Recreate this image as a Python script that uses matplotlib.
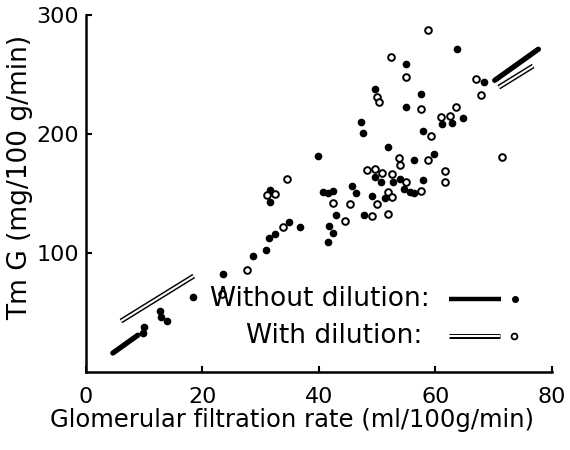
import matplotlib
matplotlib.use("Agg")
import matplotlib.pyplot as plt
import numpy as np

# Tm G vs GFR
# without dilution (filled dots)
gfr_without = [63.8, 54.9, 68.3, 49.6, 57.6, 54.9, 64.8, 61.2, 62.9, 57.8,
               51.8, 59.7, 56.4, 49.6, 50.6, 52.8, 53.9, 57.8, 54.7, 55.6,
               56.4, 49.2, 51.3, 47.3, 47.5, 39.8, 45.6, 46.3, 40.7, 41.5,
               42.4, 31.6, 31.6, 42.9, 47.7, 41.7, 42.4, 36.7, 41.5, 34.8,
               32.4, 31.4, 30.9, 28.6, 23.5, 18.4, 9.8, 9.9, 12.7, 12.9, 13.9]
tmg_without = [271.4, 258.8, 243.7, 237.8, 233.6, 222.7, 213.4, 208.4, 209.2, 202.5,
               189.1, 183.2, 178.2, 163.9, 159.7, 159.7, 162.2, 161.3, 153.8, 151.3,
               150.4, 147.9, 146.2, 210.1, 200.8, 181.5, 156.3, 150.4, 151.3, 150.4,
               152.1, 152.9, 142.9, 131.9, 131.9, 122.7, 116.8, 121.8, 109.2, 126.1,
               116.0, 112.6, 102.5, 97.5, 82.4, 63.0, 32.8, 37.8, 51.3, 46.2, 42.9]

# with dilution (open dots)
gfr_with = [58.8, 52.3, 54.9, 66.9, 67.8, 49.9, 50.4, 57.6, 63.6, 60.9,
            62.6, 59.2, 71.5, 53.7, 58.7, 53.9, 49.6, 50.8, 52.5, 54.9,
            61.7, 61.7, 57.6, 51.8, 52.5, 48.2, 34.6, 31.0, 32.4, 49.9,
            49.2, 51.8, 42.5, 45.3, 44.4, 33.8, 27.6, 23.3]
tmg_with = [287.4, 264.7, 247.9, 246.2, 232.8, 231.1, 226.9, 221.0, 222.7, 214.3,
            215.1, 198.3, 180.7, 179.8, 178.2, 173.9, 170.6, 167.2, 166.4, 159.7,
            168.9, 159.7, 152.1, 151.3, 147.1, 169.7, 162.2, 148.7, 149.6, 141.2,
            131.1, 132.8, 142.0, 141.2, 126.9, 121.8, 85.7, 65.5]

# regression lines, only drawn at the two ends
fit_without = (3.49, 0.0)
fit_with = (3.025, 24.75)
ends_without = [(4.6, 8.9), (70.2, 77.7)]
ends_with = [(6.0, 18.5), (70.9, 76.8)]

x_ticks = [0, 20, 40, 60, 80]
y_ticks = [100, 200, 300]

fig = plt.figure(figsize=(5.7, 4.5), dpi=100)
ax = fig.add_axes([0.151, 0.173, 0.817, 0.794])


def draw_double(ax, xs, ys, **kw):
    ax.plot(xs, ys, color="black", lw=3.6, solid_capstyle="butt", **kw)
    ax.plot(xs, ys, color="white", lw=1.5, solid_capstyle="butt", **kw)


for x0, x1 in ends_without:
    xs = np.array([x0, x1])
    ax.plot(xs, fit_without[0] * xs + fit_without[1], color="black", lw=3.8,
            solid_capstyle="round")
for x0, x1 in ends_with:
    xs = np.array([x0, x1])
    draw_double(ax, xs, fit_with[0] * xs + fit_with[1])

ax.plot(gfr_without, tmg_without, "o", color="black", ms=4.5, mec="black")
ax.plot(gfr_with, tmg_with, "o", mfc="white", mec="black", ms=4.8, mew=1.4)

# hand-made legend
tr = ax.transAxes
ax.text(0.738, 0.204, "Without dilution:", transform=tr, ha="right", va="center",
        fontsize=19)
ax.plot([0.779, 0.891], [0.204, 0.204], transform=tr, color="black", lw=3.2,
        solid_capstyle="butt")
ax.plot([0.921], [0.204], "o", transform=tr, color="black", ms=4)
ax.text(0.723, 0.101, "With dilution:", transform=tr, ha="right", va="center",
        fontsize=19)
draw_double(ax, [0.779, 0.888], [0.101, 0.101], transform=tr)
ax.plot([0.918], [0.101], "o", transform=tr, mfc="white", mec="black", ms=4.2,
        mew=1.3)

ax.set_xlim(0, 80)
ax.set_ylim(0, 300)
ax.set_xticks(x_ticks)
ax.set_yticks(y_ticks)
ax.tick_params(direction="in", length=4, width=1.5, labelsize=16)
ax.tick_params(axis="x", pad=11)
ax.tick_params(axis="y", pad=5)
for s in ["top", "right"]:
    ax.spines[s].set_visible(False)
for s in ["left", "bottom"]:
    ax.spines[s].set_linewidth(1.8)

ax.set_xlabel("Glomerular filtration rate (ml/100g/min)", fontsize=17.5)
ax.xaxis.set_label_coords(0.442, -0.1)
ax.set_ylabel("Tm G (mg/100 g/min)", fontsize=19)
ax.yaxis.set_label_coords(-0.114, 0.546)

fig.savefig("out.png", dpi=100)
